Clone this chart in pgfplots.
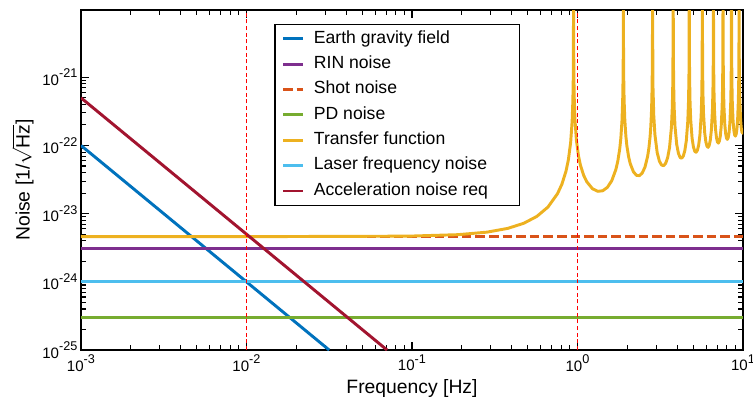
\documentclass[border=0pt]{standalone}
\usepackage{fontspec}
\setmainfont{Liberation Sans}
\usepackage{pgfplots}
\pgfplotsset{compat=1.18}

\definecolor{mblue}{HTML}{0072BD}
\definecolor{mpurple}{HTML}{7E2F8E}
\definecolor{morange}{HTML}{D95319}
\definecolor{mgreen}{HTML}{77AC30}
\definecolor{myellow}{HTML}{EDB120}
\definecolor{mcyan}{HTML}{4DBEEE}
\definecolor{mred}{HTML}{A2142F}

% power-of-ten tick label in the text font
\newcommand{\tp}[1]{10\raisebox{0.5em}{\fontsize{9.5}{10}\selectfont #1}}
% legend text padded to the box width
\newcommand{\lgd}[1]{\makebox[156pt][l]{\hspace{7pt}#1}}

\begin{document}
\begin{tikzpicture}
\begin{axis}[
  scale only axis, width=496.5pt, height=255pt,
  xmode=log, ymode=log,
  xmin=1e-3, xmax=10, ymin=1e-25, ymax=9.7e-21,
  xtick={1e-3,1e-2,1e-1,1,10},
  xticklabels={\tp{-3},\tp{-2},\tp{-1},\tp{0},\tp{1}},
  ytick={1e-25,1e-24,1e-23,1e-22,1e-21},
  yticklabels={\tp{-25},\tp{-24},\tp{-23},\tp{-22},\tp{-21}},
  tick label style={font=\fontsize{11.3}{13}\selectfont},
  yticklabel style={inner xsep=2.5pt},
  xlabel={Frequency [Hz]},
  ylabel={Noise [1/$\sqrt{\mbox{Hz}}$]},
  label style={font=\fontsize{14.5}{17}\selectfont},
  xlabel style={at={(axis description cs:0.5,-0.112)},anchor=center},
  ylabel style={at={(axis description cs:-0.088,0.5)},anchor=center,inner sep=0pt},
  axis line style={line width=1.3pt},
  major tick length=6pt, minor tick length=3.5pt,
  every tick/.append style={black, line width=1pt},
  every minor tick/.append style={line width=0.8pt},
  legend style={at={(0.292,0.959)}, anchor=north west, draw=black, line width=1pt,
    font=\fontsize{13.2}{15}\selectfont, inner xsep=5pt, inner ysep=4.5pt,
    row sep=6.5pt, nodes={inner sep=0pt, text height=9.5pt, text depth=3pt}},
  legend image code/.code={\draw[#1] (0pt,0pt) -- (15pt,0pt);},
  legend cell align=left,
  every axis plot/.append style={line width=2.2pt, line join=round},
]
\addplot[mblue] coordinates {(0.001,1e-22) (0.01,1e-24) (0.0316,1e-25)};
\addlegendentry{\lgd{Earth gravity field}}
\addplot[mpurple] coordinates {(0.001,3.1e-24) (10,3.1e-24)};
\addlegendentry{\lgd{RIN noise}}
\addplot[morange, dash pattern=on 7.2pt off 3pt] coordinates {(0.001,4.6e-24) (10,4.6e-24)};
\addlegendentry{\lgd{Shot noise}}
\addplot[mgreen] coordinates {(0.001,3e-25) (10,3e-25)};
\addlegendentry{\lgd{PD noise}}
\addplot[myellow] coordinates {
(0.001,4.6e-24) (0.01,4.6e-24) (0.0947,4.68e-24) (0.1894,4.92e-24) (0.2841,5.36e-24) (0.3788,6.08e-24) (0.4735,7.23e-24) (0.5682,9.12e-24) (0.6629,1.250e-23) (0.7576,1.967e-23) (0.80495,2.706e-23) (0.8523,4.209e-23) (0.88071,6.161e-23) (0.90912,1.107e-22) (0.92806,2.255e-22) (0.93753,4.555e-22) (0.942265,9.155e-22) (0.945106,2.296e-21) (0.947,1e-18)
(0.948894,2.305e-21) (0.951735,9.246e-22) (0.95647,4.647e-22) (0.96594,2.348e-22) (0.98488,1.199e-22) (1.01329,7.088e-23) (1.0417,5.144e-23) (1.08905,3.662e-23) (1.1364,2.950e-23) (1.2311,2.322e-23) (1.3258,2.127e-23) (1.4205,2.168e-23) (1.5152,2.431e-23) (1.6099,3.036e-23) (1.7046,4.424e-23) (1.75195,5.890e-23) (1.7993,8.884e-23) (1.82771,1.278e-22) (1.85612,2.260e-22) (1.87506,4.558e-22) (1.88453,9.156e-22) (1.889265,1.835e-21) (1.892106,4.597e-21) (1.894,1e-18)
(1.8959,4.606e-21) (1.8987,1.845e-21) (1.9035,9.248e-22) (1.9129,4.650e-22) (1.9319,2.352e-22) (1.9603,1.371e-22) (1.9887,9.820e-23) (2.0361,6.846e-23) (2.0834,5.408e-23) (2.1781,4.108e-23) (2.2728,3.647e-23) (2.3675,3.613e-23) (2.4622,3.951e-23) (2.5569,4.822e-23) (2.6516,6.882e-23) (2.6990,9.074e-23) (2.7463,1.356e-22) (2.7747,1.941e-22) (2.8031,3.413e-22) (2.8221,6.860e-22) (2.8315,1.376e-21) (2.8363,2.755e-21) (2.8391,6.897e-21) (2.841,1e-18)
(2.8429,6.906e-21) (2.8599,6.952e-22) (2.8884,2.818e-22) (2.9357,1.450e-22) (3.0304,7.866e-23) (3.1251,5.894e-23) (3.2198,5.166e-23) (3.3145,5.058e-23) (3.4092,5.470e-23) (3.5039,6.608e-23) (3.5986,9.340e-23) (3.6933,1.824e-22) (3.7407,3.649e-22) (3.7691,9.162e-22) (3.7861,9.198e-21) (3.788,1e-18)
(3.7899,9.207e-21) (3.8069,9.254e-22) (3.8354,3.741e-22) (3.8827,1.917e-22) (3.9774,1.032e-22) (4.0721,7.680e-23) (4.1668,6.686e-23) (4.2615,6.503e-23) (4.3562,6.990e-23) (4.4509,8.394e-23) (4.5456,1.180e-22) (4.6403,2.291e-22) (4.6877,4.573e-22) (4.7161,1.146e-21) (4.7331,1.150e-20) (4.735,1e-18)
(4.7369,1.151e-20) (4.7539,1.156e-21) (4.7824,4.665e-22) (4.8297,2.385e-22) (4.9244,1.278e-22) (5.0191,9.466e-23) (5.1138,8.205e-23) (5.2085,7.948e-23) (5.3032,8.509e-23) (5.3979,1.018e-22) (5.4926,1.426e-22) (5.5873,2.759e-22) (5.6347,5.497e-22) (5.6631,1.377e-21) (5.6801,1.380e-20) (5.682,1e-18)
(5.6839,1.381e-20) (5.7009,1.386e-21) (5.7294,5.589e-22) (5.7767,2.852e-22) (5.8714,1.524e-22) (5.9661,1.125e-22) (6.0608,9.725e-23) (6.1555,9.393e-23) (6.2502,1.003e-22) (6.3449,1.197e-22) (6.4396,1.671e-22) (6.5343,3.226e-22) (6.5817,6.420e-22) (6.6101,1.607e-21) (6.6271,1.610e-20) (6.629,1e-18)
(6.6309,1.611e-20) (6.6479,1.616e-21) (6.6764,6.513e-22) (6.7237,3.320e-22) (6.8184,1.770e-22) (6.9131,1.304e-22) (7.0078,1.124e-22) (7.1025,1.084e-22) (7.1972,1.155e-22) (7.2919,1.375e-22) (7.3866,1.917e-22) (7.4813,3.694e-22) (7.5287,7.344e-22) (7.5571,1.837e-21) (7.5741,1.840e-20) (7.576,1e-18)
(7.5779,1.841e-20) (7.5949,1.846e-21) (7.6234,7.437e-22) (7.6707,3.788e-22) (7.7654,2.016e-22) (7.8601,1.482e-22) (7.9548,1.276e-22) (8.0495,1.228e-22) (8.1442,1.307e-22) (8.2389,1.554e-22) (8.3336,2.163e-22) (8.4283,4.162e-22) (8.4757,8.268e-22) (8.5041,2.067e-21) (8.5211,2.070e-20) (8.523,1e-18)
(8.5249,2.071e-20) (8.5419,2.076e-21) (8.5704,8.360e-22) (8.6177,4.255e-22) (8.7124,2.261e-22) (8.8071,1.661e-22) (8.9018,1.428e-22) (8.9965,1.373e-22) (9.0912,1.459e-22) (9.1859,1.732e-22) (9.2806,2.409e-22) (9.3753,4.629e-22) (9.4227,9.192e-22) (9.4511,2.297e-21) (9.4681,2.300e-20) (9.47,1e-18)
(9.4719,2.301e-20) (9.4889,2.307e-21) (9.5174,9.284e-22) (9.5647,4.723e-22) (9.6594,2.507e-22) (9.7541,1.840e-22) (9.8488,1.580e-22) (9.9435,1.517e-22) (10,1.554e-22)
};
\addlegendentry{\lgd{Transfer function}}
\addplot[mcyan] coordinates {(0.001,1e-24) (10,1e-24)};
\addlegendentry{\lgd{Laser frequency noise}}
\addplot[mred] coordinates {(0.001,5e-22) (0.01,5e-24) (0.0707,1e-25)};
\addlegendentry{\lgd{Acceleration noise req}}
% marker lines at 10 mHz and 1 Hz
\addplot[red, line width=1pt, dash pattern=on 3pt off 2pt, forget plot] coordinates {(0.01,1e-25) (0.01,9.7e-21)};
\addplot[red, line width=1pt, dash pattern=on 3pt off 2pt, forget plot] coordinates {(1,1e-25) (1,9.7e-21)};
\end{axis}
\pgfresetboundingbox
\path[use as bounding box] ([shift={(-60.75pt,-41.25pt)}]current axis.south west) rectangle ([shift={(7.5pt,7.5pt)}]current axis.north east);
\end{tikzpicture}
\end{document}
